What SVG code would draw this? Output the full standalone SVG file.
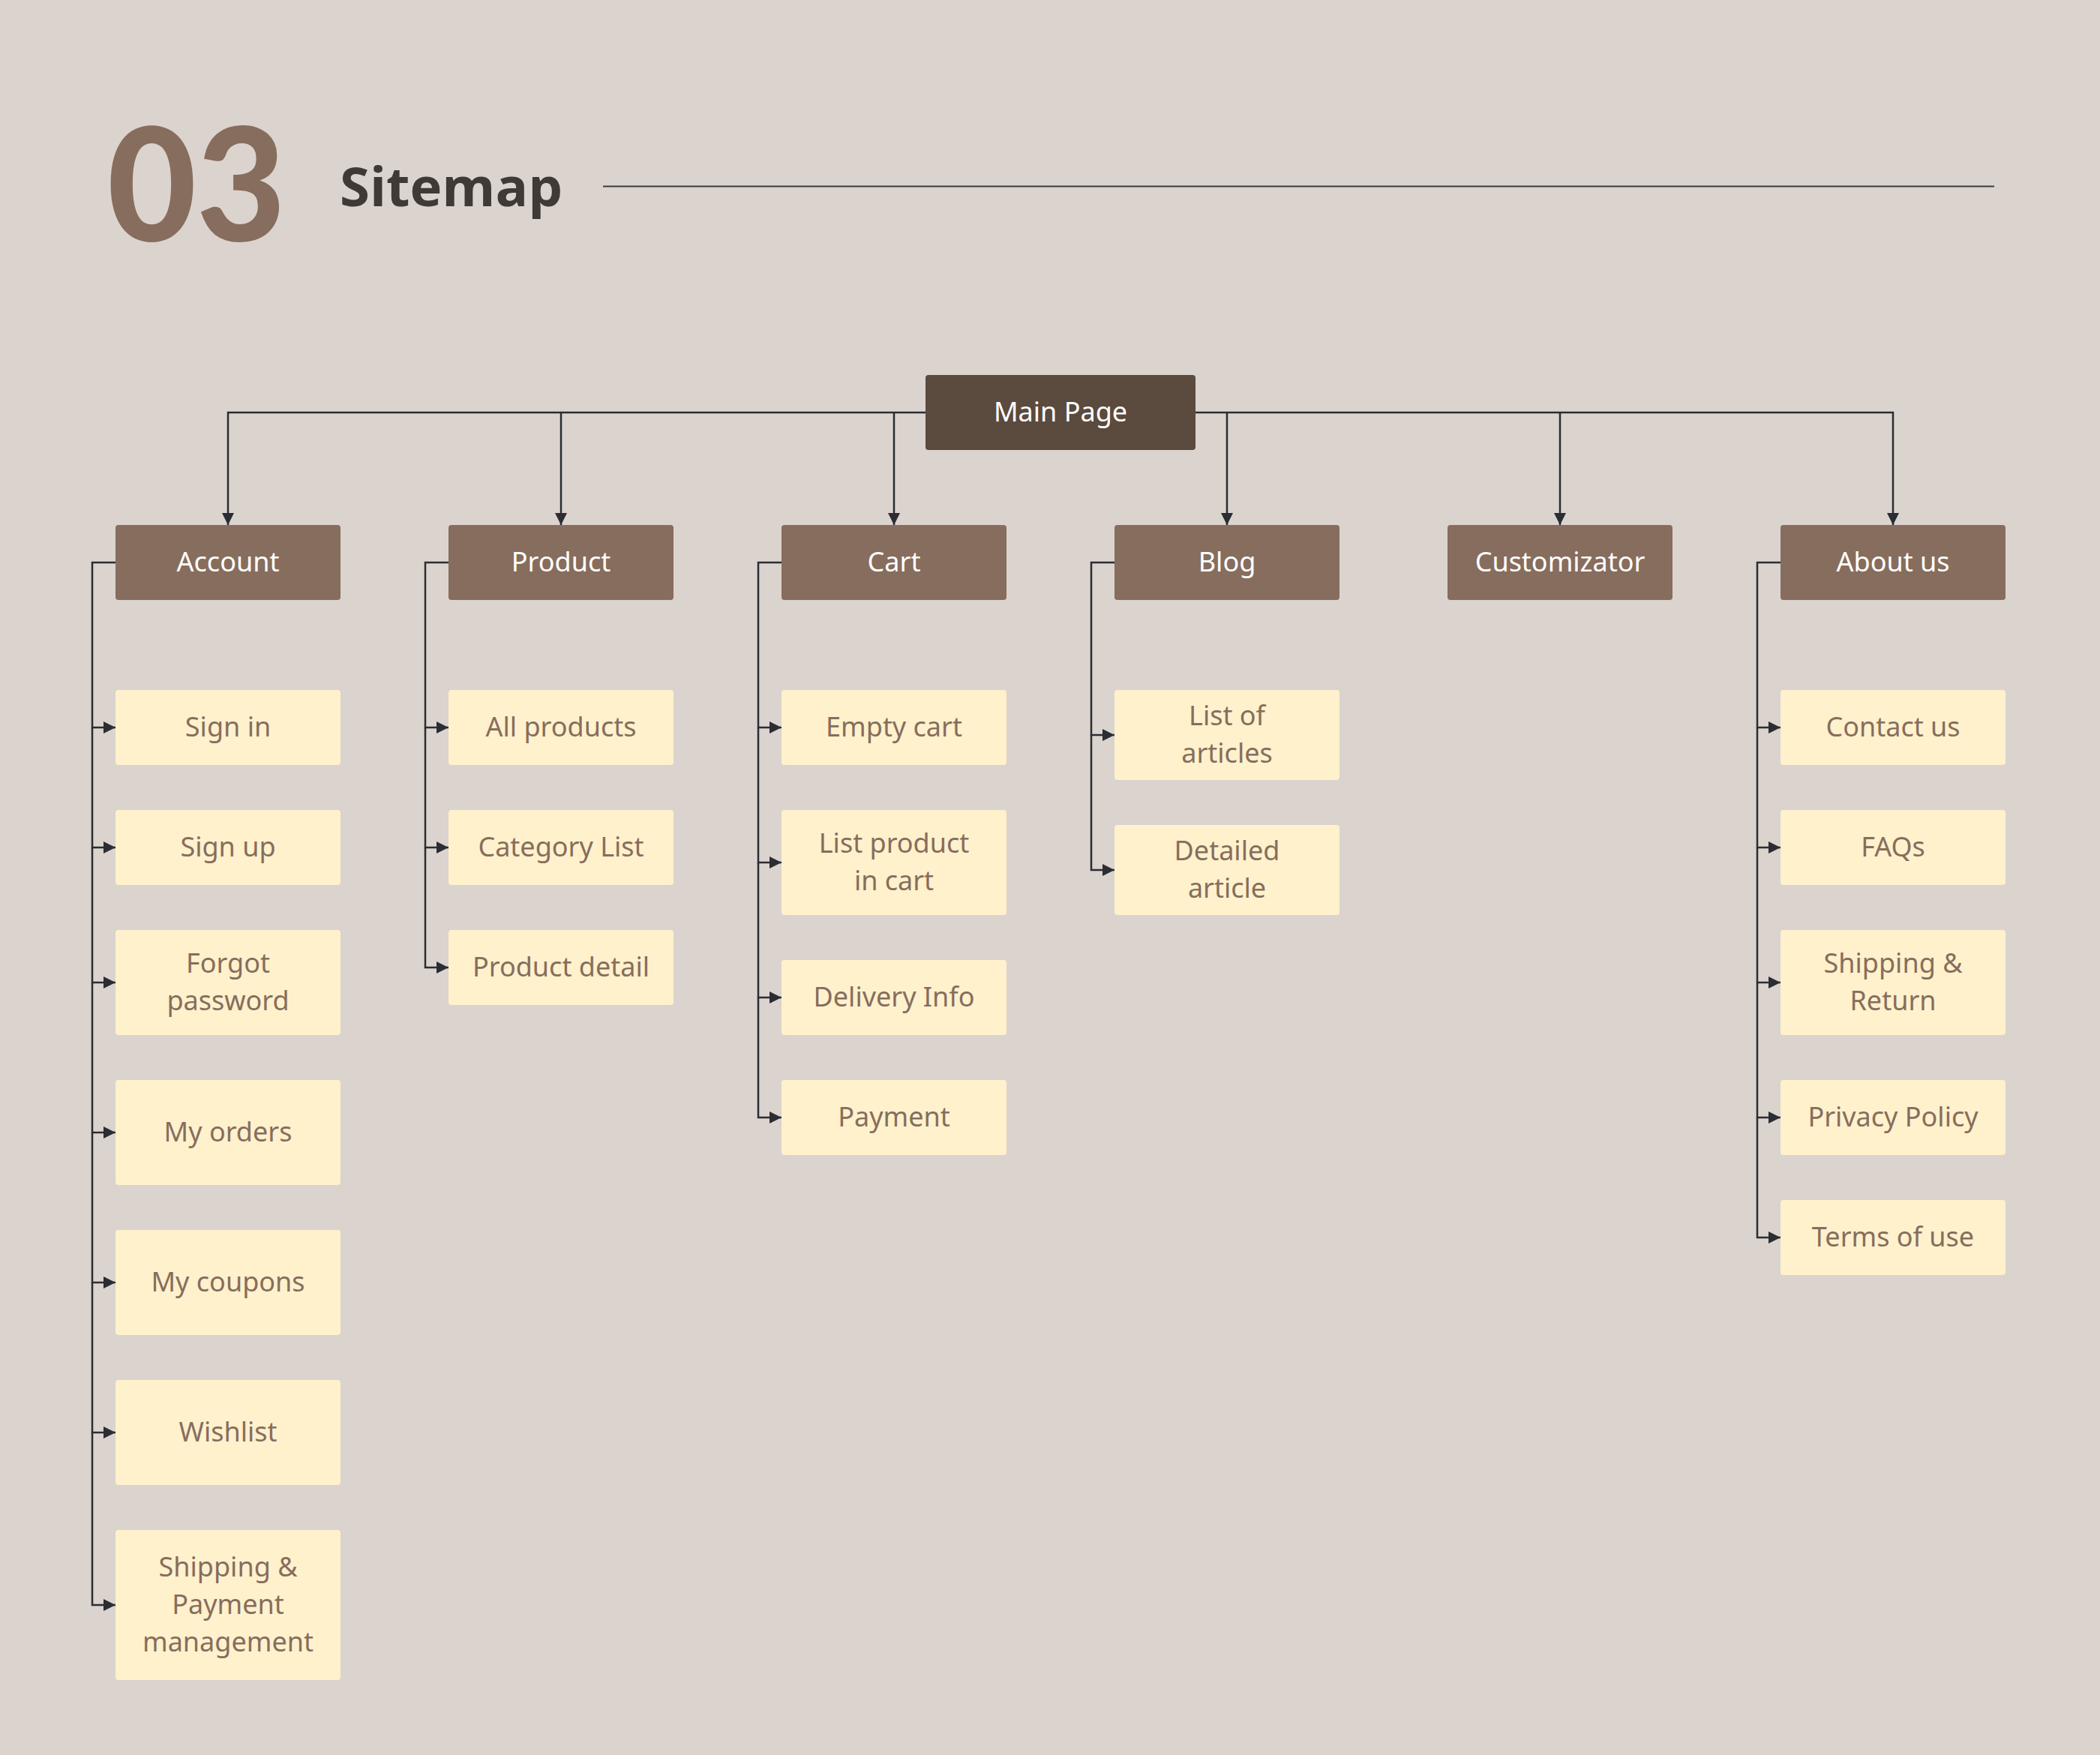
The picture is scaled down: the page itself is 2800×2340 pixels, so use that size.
<svg xmlns="http://www.w3.org/2000/svg" width="2800" height="2340" viewBox="0 0 2800 2340">
<defs>
<style>
.bg{fill:#dbd3ce}
.hdr{fill:#876d5d}
.main{fill:#5b4a3e}
.leaf{fill:#fff1cc}
.ht{font-family:"Noto Sans","DejaVu Sans",sans-serif;font-size:36px;fill:#ffffff;text-anchor:middle}
.lt{font-family:"Noto Sans","DejaVu Sans",sans-serif;font-size:36px;fill:#876d5d;text-anchor:middle}
.con{fill:none;stroke:#2a2d33;stroke-width:2.5}
</style>
<marker id="arr" markerUnits="userSpaceOnUse" markerWidth="16" markerHeight="16" refX="16" refY="8" orient="auto">
<path d="M0,0 L16,8 L0,16 z" fill="#2a2d33"/>
</marker>
</defs>
<rect class="bg" x="0" y="0" width="2800" height="2340"/>
<g id="title">
<text x="143" y="321" font-family="Lato,'Open Sans',sans-serif" font-weight="900" font-size="210" fill="#876d5d" textLength="238" lengthAdjust="spacingAndGlyphs">03</text>
<text x="453" y="275" font-family="'Open Sans',Lato,sans-serif" font-weight="700" font-size="72" fill="#3f3a36" textLength="297" lengthAdjust="spacingAndGlyphs">Sitemap</text>
<line x1="804" y1="248.5" x2="2659" y2="248.5" stroke="#3f3a36" stroke-width="2"/>
</g>
<g id="connectors">
<path class="con" d="M1414,550 H304 V700" marker-end="url(#arr)"/>
<path class="con" d="M748,550 V700" marker-end="url(#arr)"/>
<path class="con" d="M1192,550 V700" marker-end="url(#arr)"/>
<path class="con" d="M1414,550 H2524 V700" marker-end="url(#arr)"/>
<path class="con" d="M1636,550 V700" marker-end="url(#arr)"/>
<path class="con" d="M2080,550 V700" marker-end="url(#arr)"/>
<!-- Account -->
<path class="con" d="M154,750 H123 V970 H154" marker-end="url(#arr)"/>
<path class="con" d="M123,970 V1130 H154" marker-end="url(#arr)"/>
<path class="con" d="M123,1130 V1310 H154" marker-end="url(#arr)"/>
<path class="con" d="M123,1310 V1510 H154" marker-end="url(#arr)"/>
<path class="con" d="M123,1510 V1710 H154" marker-end="url(#arr)"/>
<path class="con" d="M123,1710 V1910 H154" marker-end="url(#arr)"/>
<path class="con" d="M123,1910 V2140 H154" marker-end="url(#arr)"/>
<!-- Product -->
<path class="con" d="M598,750 H567 V970 H598" marker-end="url(#arr)"/>
<path class="con" d="M567,970 V1130 H598" marker-end="url(#arr)"/>
<path class="con" d="M567,1130 V1290 H598" marker-end="url(#arr)"/>
<!-- Cart -->
<path class="con" d="M1042,750 H1011 V970 H1042" marker-end="url(#arr)"/>
<path class="con" d="M1011,970 V1150 H1042" marker-end="url(#arr)"/>
<path class="con" d="M1011,1150 V1330 H1042" marker-end="url(#arr)"/>
<path class="con" d="M1011,1330 V1490 H1042" marker-end="url(#arr)"/>
<!-- Blog -->
<path class="con" d="M1486,750 H1455 V980 H1486" marker-end="url(#arr)"/>
<path class="con" d="M1455,980 V1160 H1486" marker-end="url(#arr)"/>
<!-- About us -->
<path class="con" d="M2374,750 H2343 V970 H2374" marker-end="url(#arr)"/>
<path class="con" d="M2343,970 V1130 H2374" marker-end="url(#arr)"/>
<path class="con" d="M2343,1130 V1310 H2374" marker-end="url(#arr)"/>
<path class="con" d="M2343,1310 V1490 H2374" marker-end="url(#arr)"/>
<path class="con" d="M2343,1490 V1650 H2374" marker-end="url(#arr)"/>
</g>
<g id="main-page"><rect class="main" x="1234" y="500" width="360" height="100" rx="4"/><text class="ht" x="1414" y="562">Main Page</text></g>
<g id="account"><rect class="hdr" x="154" y="700" width="300" height="100" rx="4"/><text class="ht" x="304" y="762">Account</text></g>
<g id="product"><rect class="hdr" x="598" y="700" width="300" height="100" rx="4"/><text class="ht" x="748" y="762">Product</text></g>
<g id="cart"><rect class="hdr" x="1042" y="700" width="300" height="100" rx="4"/><text class="ht" x="1192" y="762">Cart</text></g>
<g id="blog"><rect class="hdr" x="1486" y="700" width="300" height="100" rx="4"/><text class="ht" x="1636" y="762">Blog</text></g>
<g id="customizator"><rect class="hdr" x="1930" y="700" width="300" height="100" rx="4"/><text class="ht" x="2080" y="762">Customizator</text></g>
<g id="about-us"><rect class="hdr" x="2374" y="700" width="300" height="100" rx="4"/><text class="ht" x="2524" y="762">About us</text></g>

<g id="sign-in"><rect class="leaf" x="154" y="920" width="300" height="100" rx="4"/><text class="lt" x="304" y="982">Sign in</text></g>
<g id="sign-up"><rect class="leaf" x="154" y="1080" width="300" height="100" rx="4"/><text class="lt" x="304" y="1142">Sign up</text></g>
<g id="forgot-password"><rect class="leaf" x="154" y="1240" width="300" height="140" rx="4"/><text class="lt" x="304" y="1297">Forgot</text><text class="lt" x="304" y="1347">password</text></g>
<g id="my-orders"><rect class="leaf" x="154" y="1440" width="300" height="140" rx="4"/><text class="lt" x="304" y="1522">My orders</text></g>
<g id="my-coupons"><rect class="leaf" x="154" y="1640" width="300" height="140" rx="4"/><text class="lt" x="304" y="1722">My coupons</text></g>
<g id="wishlist"><rect class="leaf" x="154" y="1840" width="300" height="140" rx="4"/><text class="lt" x="304" y="1922">Wishlist</text></g>
<g id="shipping-payment"><rect class="leaf" x="154" y="2040" width="300" height="200" rx="4"/><text class="lt" x="304" y="2102">Shipping &amp;</text><text class="lt" x="304" y="2152">Payment</text><text class="lt" x="304" y="2202">management</text></g>

<g id="all-products"><rect class="leaf" x="598" y="920" width="300" height="100" rx="4"/><text class="lt" x="748" y="982">All products</text></g>
<g id="category-list"><rect class="leaf" x="598" y="1080" width="300" height="100" rx="4"/><text class="lt" x="748" y="1142">Category List</text></g>
<g id="product-detail"><rect class="leaf" x="598" y="1240" width="300" height="100" rx="4"/><text class="lt" x="748" y="1302">Product detail</text></g>

<g id="empty-cart"><rect class="leaf" x="1042" y="920" width="300" height="100" rx="4"/><text class="lt" x="1192" y="982">Empty cart</text></g>
<g id="list-product"><rect class="leaf" x="1042" y="1080" width="300" height="140" rx="4"/><text class="lt" x="1192" y="1137">List product</text><text class="lt" x="1192" y="1187">in cart</text></g>
<g id="delivery-info"><rect class="leaf" x="1042" y="1280" width="300" height="100" rx="4"/><text class="lt" x="1192" y="1342">Delivery Info</text></g>
<g id="payment"><rect class="leaf" x="1042" y="1440" width="300" height="100" rx="4"/><text class="lt" x="1192" y="1502">Payment</text></g>

<g id="list-articles"><rect class="leaf" x="1486" y="920" width="300" height="120" rx="4"/><text class="lt" x="1636" y="967">List of</text><text class="lt" x="1636" y="1017">articles</text></g>
<g id="detailed-article"><rect class="leaf" x="1486" y="1100" width="300" height="120" rx="4"/><text class="lt" x="1636" y="1147">Detailed</text><text class="lt" x="1636" y="1197">article</text></g>

<g id="contact-us"><rect class="leaf" x="2374" y="920" width="300" height="100" rx="4"/><text class="lt" x="2524" y="982">Contact us</text></g>
<g id="faqs"><rect class="leaf" x="2374" y="1080" width="300" height="100" rx="4"/><text class="lt" x="2524" y="1142">FAQs</text></g>
<g id="shipping-return"><rect class="leaf" x="2374" y="1240" width="300" height="140" rx="4"/><text class="lt" x="2524" y="1297">Shipping &amp;</text><text class="lt" x="2524" y="1347">Return</text></g>
<g id="privacy-policy"><rect class="leaf" x="2374" y="1440" width="300" height="100" rx="4"/><text class="lt" x="2524" y="1502">Privacy Policy</text></g>
<g id="terms-of-use"><rect class="leaf" x="2374" y="1600" width="300" height="100" rx="4"/><text class="lt" x="2524" y="1662">Terms of use</text></g>
</svg>
